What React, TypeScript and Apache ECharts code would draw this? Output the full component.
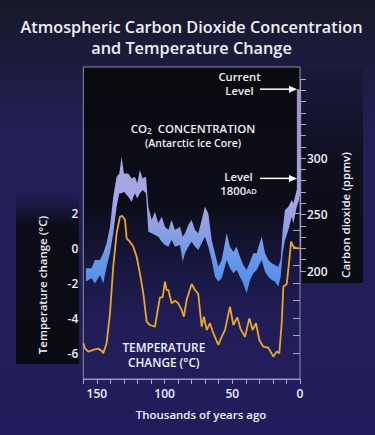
import React, { useEffect, useRef } from "react";
import * as echarts from "echarts";

// ---------- data ----------
// Temperature change (°C) vs. thousands of years ago
const tempAges = [160, 158.8, 156.3, 151.4, 149, 146.5, 145.3, 142.8, 140.3, 137.9, 135.4, 132.9, 131.2, 129.2, 128, 125.6, 123.1, 120.6, 118.2, 115.7, 113.2, 110.8, 107.1, 104.6, 103.4, 101.4, 99.7, 98.5, 97.2, 94.8, 92.3, 89.9, 87.4, 85.7, 83.7, 80, 77.5, 75.1, 72.6, 70.9, 68.9, 66.5, 64, 60.3, 57.8, 55.4, 51.7, 49.2, 46.3, 43.8, 40.6, 37.4, 35, 32.5, 30, 27.1, 23.4, 21.7, 19.7, 17.2, 15.3, 13.5, 12.3, 9.8, 7.9, 6.6, 4.9, 2.5, 0.7];
const tempValues = [-5.45, -5.73, -5.92, -5.79, -5.75, -5.87, -6.02, -5.45, -3.73, -1.07, 0.84, 1.79, 1.83, 1.6, 0.55, 0.36, 0.08, -0.5, -1.45, -2.59, -4.21, -4.4, -4.5, -3.35, -2.82, -2.82, -1.92, -2.4, -2.4, -3.16, -3.01, -3.16, -3.54, -3.92, -2.97, -2.06, -2.4, -2.63, -4.5, -3.92, -4.69, -4.3, -4.87, -5.54, -5.07, -4.69, -3.35, -4.4, -3.96, -4.65, -5.07, -4.02, -4.69, -4.3, -5.26, -5.64, -5.7, -5.92, -6.21, -5.92, -6.02, -4.3, -2.21, -2.06, -0.69, 0.36, 0.08, -0.02, 0];

// CO2 concentration band (ppmv), Antarctic ice core
const co2Ages = [158.1, 153.9, 151.4, 147.7, 145.3, 142.8, 140.3, 137.9, 135.4, 133.4, 131.7, 130, 126.8, 124.3, 121.9, 120.2, 118.2, 116.2, 113.7, 112, 109.5, 107.1, 104.6, 102.1, 99.7, 97.2, 94.8, 92.3, 88.6, 86.6, 84.9, 82.5, 80, 77.5, 75.1, 72.6, 70.2, 67.7, 65.2, 62.8, 60.3, 57.8, 54.1, 51.7, 49.2, 46.8, 44.3, 41.9, 39.4, 36.9, 34.5, 32, 28.3, 25.8, 23.4, 20.9, 18.5, 16, 14.3, 12.8, 11.1, 8.6, 6.1, 4.9, 2.4, 0.7];
const co2Upper = [202.4, 202.4, 209.7, 209.7, 215.7, 224.5, 239.2, 265.8, 283.5, 286.4, 301.2, 286.4, 286.4, 282, 283.5, 277.6, 289.4, 282, 283.5, 256.9, 245.1, 252.5, 242.2, 248, 239.2, 236.3, 245.1, 236.3, 239.2, 230.4, 233.4, 240.7, 245.1, 236.3, 233.4, 245.1, 256.9, 251, 227.4, 215.7, 203.8, 209.7, 233.4, 221.5, 217.1, 221.5, 212.7, 205.3, 200.9, 208.2, 215.7, 215.7, 230.4, 215.7, 209.7, 206.8, 205.3, 203.8, 209.7, 236.3, 254, 256.9, 262.8, 260, 271.7, 279];
const co2Lower = [190.6, 193.5, 189, 196.5, 189, 203.8, 215.7, 233.4, 256.9, 268.8, 268.8, 270.2, 265.8, 261.3, 268.8, 264.3, 268.8, 271.7, 268.8, 234.8, 233.4, 231.9, 230.4, 225.9, 223, 221.5, 227.4, 221.5, 223, 208.2, 215.7, 221.5, 225.9, 221.5, 218.6, 224.5, 230.4, 221.5, 209.7, 195, 190.6, 193.5, 209.7, 202.4, 198, 200.9, 195, 189, 180.3, 192, 198, 200.9, 209.7, 199.4, 195, 192, 190.6, 186.1, 195, 215.7, 227.4, 236.3, 248, 242, 256.9, 262.8];

// recent (industrial era) rise
const recentAges = [2.3, 0];
const recentUpper = [361, 361];
const recentLower = [266, 266];

const currentLevel = 361;
const level1800 = 282;

// tick labels
const xTickLabels = [0, 50, 100, 150];
const tempTickLabels = [-6, -4, -2, 0, 2];
const co2TickLabels = [200, 250, 300];

const FONT = '"Open Sans", "Noto Sans", sans-serif';
const TXT = "#eeeef4";
const AXIS = "#9a9ab4";

function bandPoints(api: any, ages: number[], up: number[], low: number[]) {
  const pts: number[][] = [];
  for (let i = 0; i < ages.length; i++) pts.push(api.coord([ages[i], up[i]]));
  for (let i = ages.length - 1; i >= 0; i--) pts.push(api.coord([ages[i], low[i]]));
  return pts;
}

const labelStyle = { color: TXT, fontSize: 12, fontWeight: 600, fontFamily: FONT };

const option: any = {
  animation: false,
  backgroundColor: "#221e5c",
  grid: [
    {
      left: 83.3, top: 67, width: 216.7, height: 312,
      show: true, borderColor: "#8e8ea8", borderWidth: 1,
      backgroundColor: {
        type: "linear", x: 0, y: 0, x2: 0, y2: 1,
        colorStops: [
          { offset: 0, color: "#0a0a10" },
          { offset: 0.45, color: "#0d0d1a" },
          { offset: 0.62, color: "#17163c" },
          { offset: 0.8, color: "#201d56" },
          { offset: 1, color: "#221e5c" },
        ],
      },
      containLabel: false, outerBoundsMode: "none",
    },
    { left: 83.3, top: 213, width: 216.7, height: 140, containLabel: false, outerBoundsMode: "none" },
    { left: 83.3, top: 79, width: 216.7, height: 192, containLabel: false, outerBoundsMode: "none" },
  ],
  xAxis: [
    {
      gridIndex: 0, type: "value", min: 0, max: 160, interval: 10, inverse: true,
      axisLine: { show: true, lineStyle: { color: AXIS, width: 1 } },
      axisTick: { show: true, length: 5, lineStyle: { color: "#a8a8c2" } },
      axisLabel: {
        formatter: (v: number) => (xTickLabels.includes(v) ? String(v) : ""),
        ...labelStyle, margin: 8,
      },
      splitLine: { show: false },
    },
    { gridIndex: 1, type: "value", min: 0, max: 160, inverse: true, show: false },
    { gridIndex: 2, type: "value", min: 0, max: 160, inverse: true, show: false },
  ],
  yAxis: [
    { gridIndex: 0, type: "value", min: 0, max: 1, show: false },
    {
      gridIndex: 1, type: "value", min: -6, max: 2, interval: 1, position: "left",
      axisLine: { show: false },
      axisTick: { show: true, length: 7, lineStyle: { color: "#a8a8c2" } },
      axisLabel: {
        formatter: (v: number) => (tempTickLabels.includes(v) ? String(v) : ""),
        ...labelStyle, margin: 5,
      },
      splitLine: { show: false },
    },
    {
      gridIndex: 2, type: "value", min: 200, max: 370, interval: 10, position: "right", offset: 2,
      axisLine: { show: true, lineStyle: { color: AXIS } },
      axisTick: { show: true, length: 6, lineStyle: { color: "#a8a8c2" } },
      axisLabel: {
        formatter: (v: number) => (co2TickLabels.includes(v) ? String(v) : ""),
        ...labelStyle, margin: 5,
      },
      splitLine: { show: false },
    },
  ],
  series: [
    {
      type: "custom",
      name: "CO2 concentration",
      coordinateSystem: "cartesian2d",
      xAxisIndex: 2, yAxisIndex: 2,
      data: [[0, 0]],
      clip: false,
      silent: true,
      z: 2,
      renderItem: (params: any, api: any) => {
        return {
          type: "group",
          children: [
            {
              type: "polygon",
              shape: { points: bandPoints(api, co2Ages, co2Upper, co2Lower) },
              style: {
                fill: {
                  type: "linear", x: 0, y: 0, x2: 0, y2: 1,
                  colorStops: [
                    { offset: 0, color: "#aba6e2" },
                    { offset: 0.35, color: "#a2a5e4" },
                    { offset: 0.55, color: "#8a9fe4" },
                    { offset: 0.78, color: "#6296e8" },
                    { offset: 1, color: "#4e8eea" },
                  ],
                },
              },
            },
            {
              type: "polygon",
              shape: { points: bandPoints(api, recentAges, recentUpper, recentLower) },
              style: {
                fill: {
                  type: "linear", x: 0, y: 0, x2: 0, y2: 1,
                  colorStops: [
                    { offset: 0, color: "#ad8cc4" },
                    { offset: 1, color: "#a2a2de" },
                  ],
                },
              },
            },
          ],
        };
      },
    },
    {
      type: "line",
      name: "Temperature change",
      xAxisIndex: 1, yAxisIndex: 1,
      data: tempAges.map((t, i) => [t, tempValues[i]]),
      showSymbol: false, symbol: "none", clip: false,
      lineStyle: { color: "#e8a62c", width: 1.8 },
      z: 3,
    },
  ],
};

function txt(text: string, x: number, y: number, size: number, extra: any = {}, rotation = 0) {
  return {
    type: "text", x, y, z: 10, rotation,
    style: {
      text, fill: TXT, fontSize: size, fontWeight: 600, fontFamily: FONT,
      textAlign: "center", textVerticalAlign: "middle", ...extra,
    },
  };
}

function arrow(x1: number, x2: number, y: number) {
  return [
    { type: "line", z: 10, shape: { x1, y1: y, x2: x2 - 7, y2: y }, style: { stroke: "#ffffff", lineWidth: 1.5 } },
    { type: "polygon", z: 10, shape: { points: [[x2 - 8, y - 3.5], [x2, y], [x2 - 8, y + 3.5]] }, style: { fill: "#ffffff" } },
  ];
}

export default function App() {
  const ref = useRef<HTMLDivElement>(null);
  useEffect(() => {
    if (!ref.current) return;
    const chart = echarts.init(ref.current, null, { renderer: "svg" });
    chart.setOption(option);
    const yCur = chart.convertToPixel({ yAxisIndex: 2 }, currentLevel) as number;
    const y1800 = chart.convertToPixel({ yAxisIndex: 2 }, level1800) as number;
    const xNow = chart.convertToPixel({ xAxisIndex: 2 }, 0) as number;
    const a = { fill: TXT, fontSize: 11.3, fontWeight: 600, fontFamily: FONT, lineHeight: 14 };
    chart.setOption({
      graphic: [
        {
          type: "rect", z: -100, shape: { x: 0, y: 0, width: 375, height: 435 },
          style: {
            fill: {
              type: "linear", x: 0, y: 0, x2: 0, y2: 1,
              colorStops: [
                { offset: 0, color: "#18182a" },
                { offset: 0.12, color: "#1c1b3a" },
                { offset: 0.32, color: "#221f58" },
                { offset: 1, color: "#211d5c" },
              ],
            },
          },
        },
        {
          type: "rect", z: -50, shape: { x: 16, y: 192, width: 63, height: 172 },
          style: {
            fill: {
              type: "linear", x: 0, y: 0, x2: 0, y2: 1,
              colorStops: [
                { offset: 0, color: "rgba(11,11,20,0)" },
                { offset: 0.2, color: "rgba(11,11,20,0.95)" },
                { offset: 1, color: "#0b0b13" },
              ],
            },
          },
        },
        {
          type: "rect", z: -50, shape: { x: 302, y: 67, width: 61, height: 216 },
          style: {
            fill: {
              type: "linear", x: 0, y: 0, x2: 0, y2: 1,
              colorStops: [
                { offset: 0, color: "rgba(12,12,22,0.2)" },
                { offset: 0.45, color: "rgba(12,12,22,0.9)" },
                { offset: 1, color: "#0b0b13" },
              ],
            },
          },
        },
        txt("Atmospheric Carbon Dioxide Concentration\nand Temperature Change", 191.5, 37.2, 16.3, { lineHeight: 21 }),
        {
          type: "text", x: 239.5, y: 83, z: 10,
          style: {
            text: "{a|Current}\n{a|Level}",
            textAlign: "center", textVerticalAlign: "middle",
            rich: { a },
          },
        },
        ...arrow(260, xNow - 3, yCur),
        {
          type: "text", x: 193, y: 136, z: 10,
          style: {
            text: "{a|CO}{s|2}{a|  CONCENTRATION}\n{b|(Antarctic Ice Core)}",
            textAlign: "center", textVerticalAlign: "middle",
            rich: {
              a: { fill: TXT, fontSize: 11.5, fontWeight: 600, fontFamily: FONT, lineHeight: 14.5 },
              s: { fill: TXT, fontSize: 8, fontWeight: 600, fontFamily: FONT, lineHeight: 14.5, padding: [4, 0, 0, 0] },
              b: { fill: TXT, fontSize: 10.5, fontWeight: 600, fontFamily: FONT, lineHeight: 14.5 },
            },
          },
        },
        {
          type: "text", x: 238.5, y: 183, z: 10,
          style: {
            text: "{a|Level}\n{a|1800}{b|AD}",
            textAlign: "center", textVerticalAlign: "middle",
            rich: {
              a,
              b: { fill: TXT, fontSize: 7.5, fontWeight: 600, fontFamily: FONT, lineHeight: 14, padding: [2, 0, 0, 0] },
            },
          },
        },
        ...arrow(260, xNow - 3, y1800),
        txt("TEMPERATURE\nCHANGE (°C)", 163.8, 354.3, 11.8, { lineHeight: 14.8 }),
        txt("Temperature change (°C)", 42, 285, 11.5, {}, Math.PI / 2),
        txt("Carbon dioxide (ppmv)", 345, 215, 11.5, {}, Math.PI / 2),
        txt("Thousands of years ago", 201, 414, 11.5),
      ],
    });
    return () => chart.dispose();
  }, []);
  return (
    <div
      ref={ref}
      style={{ position: "fixed", left: 0, top: 0, width: 375, height: 435 }}
    />
  );
}
